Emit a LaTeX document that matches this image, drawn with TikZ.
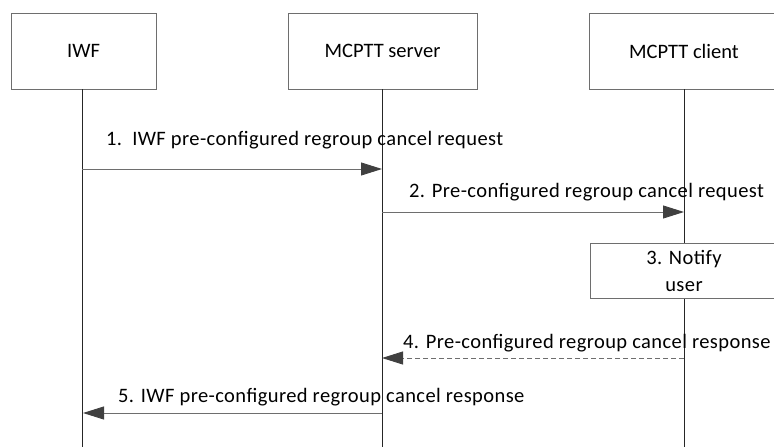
\documentclass[tikz,border=0pt]{standalone}
\usepackage{fontspec}
\setmainfont{Carlito}
\usetikzlibrary{arrows.meta}
\definecolor{linegray}{HTML}{6E6E6E}
\definecolor{headgray}{HTML}{404040}
\begin{document}
\begin{tikzpicture}[x=1pt,y=-1pt,
  every node/.style={font=\fontsize{20.5}{24}\selectfont},
  entity/.style={draw=linegray,line width=0.9pt,fill=white,minimum width=145pt,minimum height=76pt,inner sep=0pt},
  life/.style={draw=black!85,line width=0.8pt},
  msg/.style={draw=linegray,line width=0.9pt,-{Triangle[length=21pt,width=13pt,fill=headgray,color=headgray]}},
  lbl/.style={anchor=west,inner sep=0pt,font=\fontsize{20.5}{24}\selectfont\addfontfeature{LetterSpace=2}}]
\useasboundingbox (0,0) rectangle (774,447);
\clip (0,0) rectangle (774,447);
\node[entity] (iwf) at (83.5,51) {IWF};
\node[entity,minimum width=189pt] (srv) at (382.5,51) {MCPTT server};
\node[entity,minimum width=190pt] (cli) at (684,51) {MCPTT client};
\coordinate (iwfend) at (82,447);
\coordinate (srvend) at (382,447);
\coordinate (cliend) at (684,447);
\draw[life] (iwf.south -| iwfend) -- (iwfend);
\draw[life] (srv.south -| srvend) -- (srvend);
\draw[life] (cli.south -| cliend) -- (cliend);
\node[entity,minimum width=188pt,minimum height=55pt,align=center,font=\fontsize{20.5}{27}\selectfont\addfontfeature{LetterSpace=2}] (notify) at (684,270.5) {3. Notify\\user};
\coordinate (m1a) at (82,169);
\coordinate (m1b) at (382,169);
\coordinate (m2a) at (382,212);
\coordinate (m2b) at (684,212);
\coordinate (m4a) at (684,358);
\coordinate (m4b) at (382,358);
\coordinate (m5a) at (382,413);
\coordinate (m5b) at (83,413);
\draw[msg] (m1a) -- (m1b);
\draw[msg] (m2a) -- (m2b);
\draw[msg,dash pattern=on 5pt off 3pt] (m4a) -- (m4b);
\draw[msg] (m5a) -- (m5b);
\node[lbl] (t1) at (106,140) {1.\ \ IWF pre-configured regroup cancel request};
\node[lbl] (t2) at (409,192) {2. Pre-configured regroup cancel request};
\node[lbl] (t4) at (403,343) {4. Pre-configured regroup cancel response};
\node[lbl] (t5) at (118,397) {5. IWF pre-configured regroup cancel response};
\end{tikzpicture}
\end{document}
